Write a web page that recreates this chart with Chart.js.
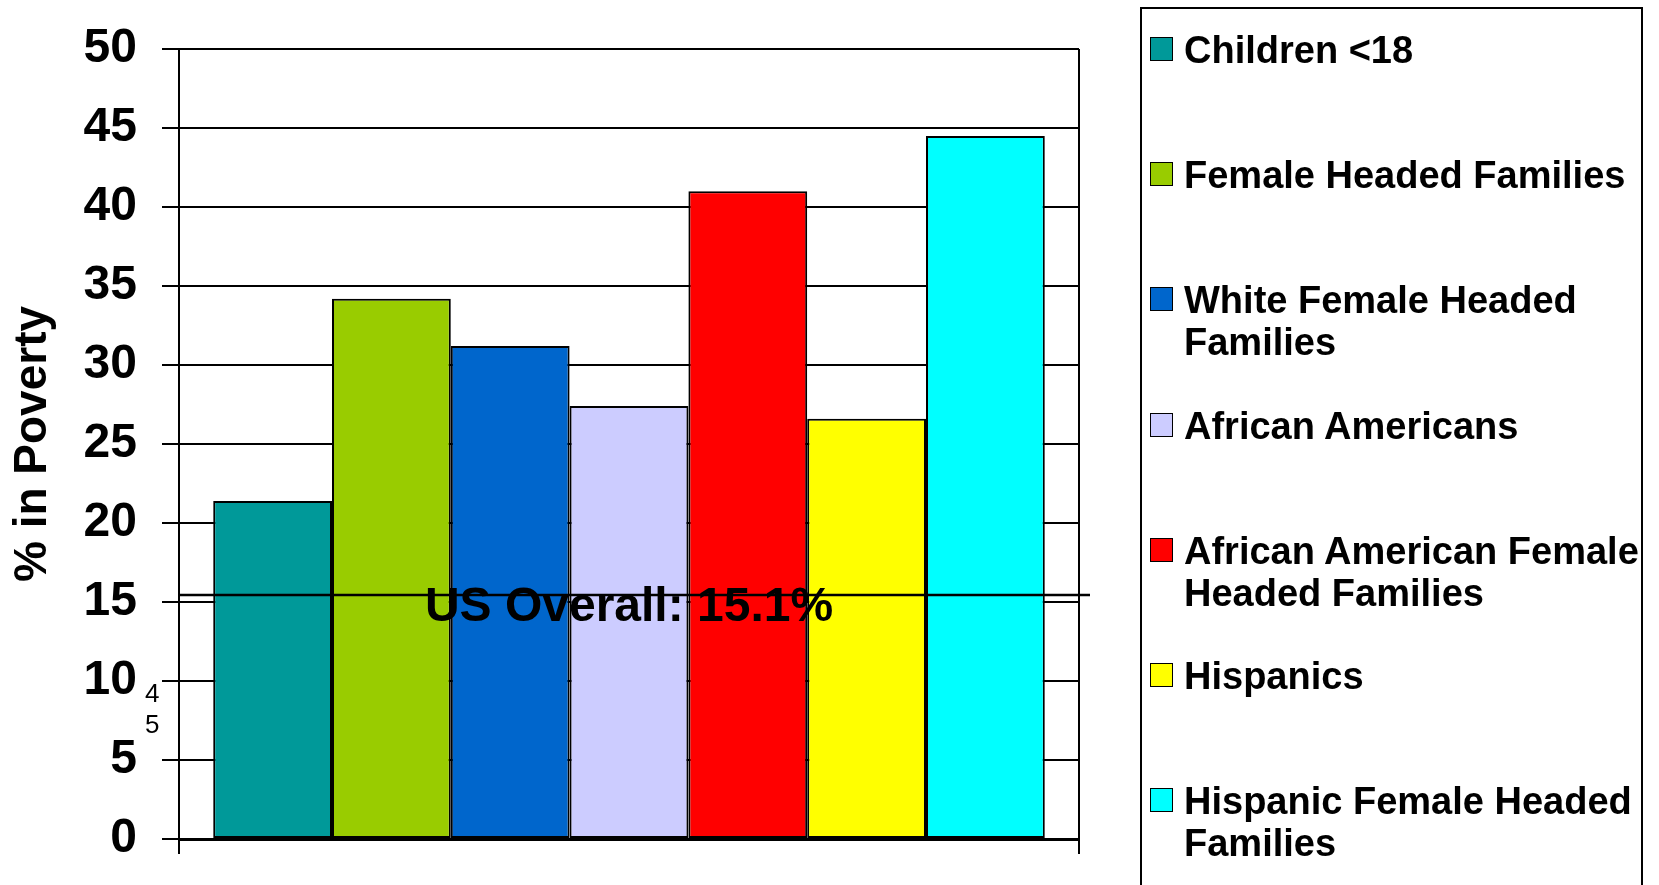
<!DOCTYPE html>
<html>
<head>
<meta charset="utf-8">
<script src="https://cdn.jsdelivr.net/npm/chart.js@4.4.3/dist/chart.umd.min.js"></script>
<style>
  html, body { margin: 0; padding: 0; background: #fff; }
  #wrap { position: relative; width: 1659px; height: 885px; overflow: hidden; }
  #legend {
    position: absolute; left: 1140px; top: 7px; width: 503px; height: 900px;
    border: 2px solid #000; box-sizing: border-box;
    font-family: "Liberation Sans", Arial, sans-serif; font-weight: bold; font-size: 38px; line-height: 42px; color: #000;
  }
  .lg-item { position: absolute; left: 8px; display: flex; align-items: flex-start; }
  .lg-box { width: 21px; height: 22px; border: 1.5px solid #000; margin-top: 8px; flex: none; }
  .lg-text { margin-left: 11px; width: 468px; }
</style>
</head>
<body>
<div id="wrap">
  <canvas id="chart"></canvas>
  <div id="legend"></div>
</div>
<script>
const groups = ['Children <18', 'Female Headed Families', 'White Female Headed Families', 'African Americans',
  'African American Female Headed Families', 'Hispanics', 'Hispanic Female Headed Families'];
const povertyPct = [21.4, 34.2, 31.2, 27.4, 41.0, 26.6, 44.5];
const barColors = ['#009999', '#99CC00', '#0066CC', '#CCCCFF', '#FF0000', '#FFFF00', '#00FFFF'];
const overallLine = 15.45;
const overallText = 'US Overall: 15.1%';
const yTitle = '% in Poverty';
const FONT = '"Liberation Sans", Arial, sans-serif';

// horizontal "US overall" reference line + its label, and the stray "4"/"5" marks
const overallPlugin = {
  id: 'overall',
  afterDatasetsDraw(chart) {
    const { ctx, chartArea, scales } = chart;
    const y = scales.y.getPixelForValue(overallLine);
    ctx.save();
    ctx.strokeStyle = '#000';
    ctx.lineWidth = 2.5;
    ctx.beginPath();
    ctx.moveTo(chartArea.left, y);
    ctx.lineTo(chartArea.right + 11, y);
    ctx.stroke();
    ctx.fillStyle = '#000';
    ctx.font = 'bold 48px ' + FONT;
    ctx.textAlign = 'center';
    ctx.textBaseline = 'alphabetic';
    ctx.fillText(overallText, (chartArea.left + chartArea.right) / 2, y + 26);
    ctx.font = '26px ' + FONT;
    ctx.textAlign = 'left';
    ctx.fillText('4', 145, 702);
    ctx.fillText('5', 145, 733);
    ctx.restore();
  }
};

new Chart(document.getElementById('chart'), {
  type: 'bar',
  data: {
    labels: [''],
    datasets: groups.map((g, i) => ({
      label: g,
      data: [povertyPct[i]],
      backgroundColor: barColors[i],
      borderColor: '#000',
      borderWidth: 2,
      borderSkipped: false
    }))
  },
  options: {
    responsive: true,
    maintainAspectRatio: false,
    animation: false,
    layout: { padding: { left: 0, top: 49, right: 580, bottom: 31 } },
    datasets: { bar: { categoryPercentage: 0.924, barPercentage: 1 } },
    plugins: { legend: { display: false }, tooltip: { enabled: false } },
    scales: {
      x: {
        grid: { display: true, offset: true, color: '#000', lineWidth: 2, tickLength: 15 },
        border: { display: true, color: '#000', width: 3 },
        ticks: { display: false }
      },
      y: {
        min: 0, max: 50,
        afterFit: s => { s.width = 179; s.paddingTop = 0; s.paddingBottom = 0; },
        ticks: { stepSize: 5, color: '#000', padding: 25, font: { family: FONT, size: 48, weight: 'bold' } },
        grid: { color: '#000', lineWidth: 2, tickLength: 17 },
        border: { display: true, color: '#000', width: 2 },
        title: { display: true, text: yTitle, color: '#000', padding: { top: 6, bottom: 0 },
          font: { family: FONT, size: 46, weight: 'bold' } }
      }
    }
  },
  plugins: [overallPlugin]
});

// legend box on the right
const legend = document.getElementById('legend');
groups.forEach((g, i) => {
  const item = document.createElement('div');
  item.className = 'lg-item';
  item.style.top = (20 + i * 125.2) + 'px';
  item.innerHTML = `<div class="lg-box" style="background:${barColors[i]}"></div><div class="lg-text">${g.replace('<', '&lt;')}</div>`;
  legend.appendChild(item);
});
</script>
</body>
</html>
